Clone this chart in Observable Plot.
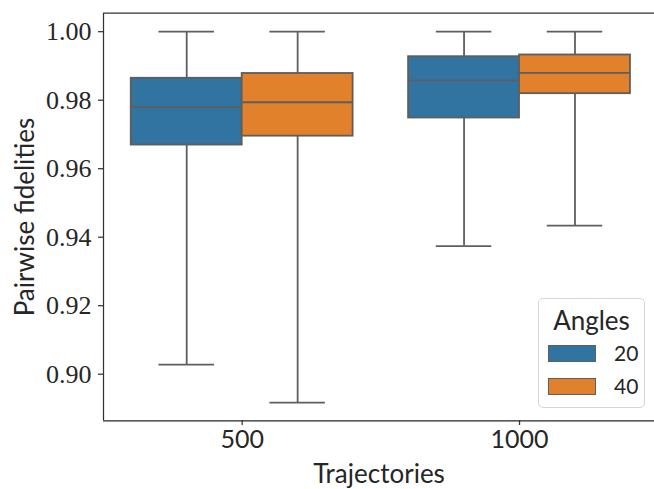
<!DOCTYPE html>
<html>
<head>
<meta charset="utf-8">
<script src="https://cdn.jsdelivr.net/npm/d3@7"></script>
<script src="https://cdn.jsdelivr.net/npm/@observablehq/plot@0.6"></script>
<style>
  html, body { margin: 0; padding: 0; background: white; }
  #wrap { position: relative; width: 654px; height: 489px; overflow: hidden; }
  #legend {
    position: absolute; left: 538px; top: 298px; width: 107px; height: 110px;
    border: 1px solid #d6d6d6; border-radius: 5px; background: rgba(255,255,255,0.85);
    font-family: Lato, sans-serif; color: #262626; box-sizing: border-box;
  }
  #legend .title { position: absolute; left: 0; width: 100%; top: 6px; text-align: center; font-size: 26px; line-height: 30px; }
  #legend .row { position: absolute; left: 9px; height: 17px; }
  #legend .sw { position: absolute; left: 0; top: 0; width: 48px; height: 17px; border: 1.2px solid #5e5e5e; box-sizing: border-box; }
  #legend .lab { position: absolute; left: 66px; top: -3px; font-size: 21px; line-height: 21px; }
</style>
</head>
<body>
<div id="wrap"></div>
<script>
// Data
const trajectories = ["500", "1000"];
const angles = ["20", "40"];
const colors = ["#3274a1", "#e1812c"];
// per [trajectory][angle]
const whiskerLow  = [[0.9028, 0.8917], [0.9374, 0.9434]];
const q1Values    = [[0.9669, 0.9695], [0.9748, 0.9819]];
const medians     = [[0.9780, 0.9794], [0.9858, 0.9880]];
const q3Values    = [[0.9864, 0.9878], [0.9927, 0.9932]];
const whiskerHigh = [[1.0000, 1.0000], [1.0000, 1.0000]];
const yTicks = [0.90, 0.92, 0.94, 0.96, 0.98, 1.00];

const rows = [];
trajectories.forEach((t, gi) => angles.forEach((a, hi) => {
  rows.push({
    t, a, gi, hi,
    lo: whiskerLow[gi][hi], q1: q1Values[gi][hi], med: medians[gi][hi],
    q3: q3Values[gi][hi], hi_: whiskerHigh[gi][hi]
  });
}));

const boxW = 0.4;
const center = d => d.gi + (d.hi - 0.5) * boxW;
const left = d => center(d) - boxW / 2;
const right = d => center(d) + boxW / 2;
const capL = d => center(d) - boxW / 4;
const capR = d => center(d) + boxW / 4;

const lineColor = "#5e5e5e";
const lw = 1.8;
const yDomain = [0.8864, 1.0054];
const xDomain = [-0.5, 1.5];

const chart = Plot.plot({
  width: 654,
  height: 489,
  marginLeft: 103,
  marginTop: 13,
  marginBottom: 69,
  marginRight: 0,
  style: { fontFamily: "Lato, sans-serif", background: "white", color: "#262626", overflow: "visible" },
  x: { type: "linear", domain: xDomain, range: [103, 657.7] },
  y: { domain: yDomain, range: [420.3, 12.7] },
  color: { domain: angles, range: colors },
  marks: [
    // whiskers
    Plot.ruleX(rows, { x: center, y1: "lo", y2: "hi_", stroke: lineColor, strokeWidth: lw }),
    Plot.ruleY(rows, { y: "lo", x1: capL, x2: capR, stroke: lineColor, strokeWidth: lw }),
    Plot.ruleY(rows, { y: "hi_", x1: capL, x2: capR, stroke: lineColor, strokeWidth: lw }),
    // boxes
    Plot.rect(rows, { x1: left, x2: right, y1: "q1", y2: "q3", fill: "a", stroke: lineColor, strokeWidth: lw }),
    Plot.ruleY(rows, { y: "med", x1: left, x2: right, stroke: lineColor, strokeWidth: lw }),
    // spines
    Plot.ruleX([xDomain[0]], { stroke: "#333", strokeWidth: 1.25 }),
    Plot.ruleY([yDomain[0]], { stroke: "#262626", strokeWidth: 1.25 }),
    Plot.ruleY([yDomain[1]], { stroke: "#333", strokeWidth: 1.25 }),
    // axes
    Plot.axisY({
      ticks: yTicks, tickFormat: d3.format(".2f"), tickSize: 5, tickPadding: 7,
      fontSize: 26, fontFamily: "'Liberation Serif', 'DejaVu Serif', serif",
      label: null, stroke: "#333", strokeWidth: 1.25, fill: "#262626"
    }),
    Plot.axisX({
      ticks: [0, 1], tickFormat: i => trajectories[i], tickSize: 5, tickPadding: 5,
      fontSize: 25, fontFamily: "Lato, sans-serif", label: null,
      stroke: "#333", strokeWidth: 1.25, fill: "#262626"
    }),
    Plot.text(["Trajectories"], {
      frameAnchor: "bottom", dy: 62, lineAnchor: "bottom", fontSize: 26,
      fontFamily: "Lato, sans-serif", fill: "#262626"
    }),
    Plot.text(["Pairwise fidelities"], {
      frameAnchor: "left", dx: -70, rotate: -90, textAnchor: "middle", lineAnchor: "bottom", fontSize: 26,
      fontFamily: "Lato, sans-serif", fill: "#262626"
    })
  ]
});

const wrap = document.getElementById("wrap");
wrap.appendChild(chart);

const legend = document.createElement("div");
legend.id = "legend";
let html = `<div class="title">Angles</div>`;
angles.forEach((a, i) => {
  html += `<div class="row" style="top:${46 + i * 33}px"><div class="sw" style="background:${colors[i]}"></div><div class="lab">${a}</div></div>`;
});
legend.innerHTML = html;
wrap.appendChild(legend);
</script>
</body>
</html>
